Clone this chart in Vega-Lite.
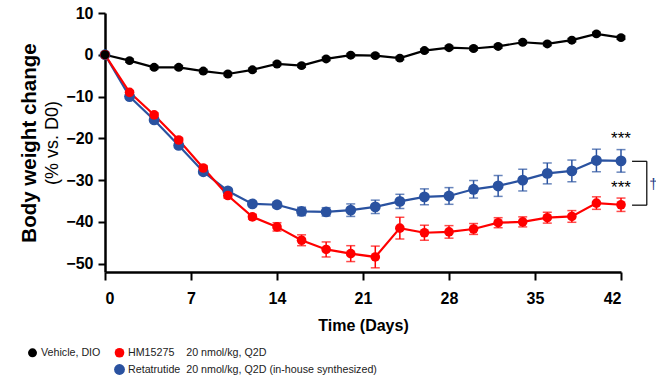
{
  "$schema": "https://vega.github.io/schema/vega-lite/v6.json",
  "width": 516,
  "height": 259,
  "autosize": {"type": "none"},
  "padding": {"left": 105, "top": 13, "right": 35, "bottom": 109},
  "background": "white",
  "config": {
    "font": "Liberation Sans",
    "view": {"stroke": null},
    "axis": {"grid": false, "domainColor": "#000", "tickColor": "#000", "labelColor": "#000", "titleColor": "#000"}
  },
  "datasets": {
    "series": [
      {"group": "Retatrutide", "day": 0, "value": 0, "sem": 0},
      {"group": "Retatrutide", "day": 2, "value": -10.0, "sem": 0.4},
      {"group": "Retatrutide", "day": 4, "value": -15.6, "sem": 0.4},
      {"group": "Retatrutide", "day": 6, "value": -21.7, "sem": 0.5},
      {"group": "Retatrutide", "day": 8, "value": -28.0, "sem": 0.5},
      {"group": "Retatrutide", "day": 10, "value": -32.6, "sem": 0.6},
      {"group": "Retatrutide", "day": 12, "value": -35.7, "sem": 0.6},
      {"group": "Retatrutide", "day": 14, "value": -35.9, "sem": 0.7},
      {"group": "Retatrutide", "day": 16, "value": -37.5, "sem": 1.0},
      {"group": "Retatrutide", "day": 18, "value": -37.6, "sem": 1.0},
      {"group": "Retatrutide", "day": 20, "value": -37.2, "sem": 1.5},
      {"group": "Retatrutide", "day": 22, "value": -36.4, "sem": 1.6},
      {"group": "Retatrutide", "day": 24, "value": -35.1, "sem": 1.7},
      {"group": "Retatrutide", "day": 26, "value": -34.0, "sem": 1.9},
      {"group": "Retatrutide", "day": 28, "value": -33.8, "sem": 2.0},
      {"group": "Retatrutide", "day": 30, "value": -32.2, "sem": 2.1},
      {"group": "Retatrutide", "day": 32, "value": -31.4, "sem": 2.5},
      {"group": "Retatrutide", "day": 34, "value": -30.0, "sem": 2.6},
      {"group": "Retatrutide", "day": 36, "value": -28.4, "sem": 2.5},
      {"group": "Retatrutide", "day": 38, "value": -27.8, "sem": 2.6},
      {"group": "Retatrutide", "day": 40, "value": -25.3, "sem": 2.7},
      {"group": "Retatrutide", "day": 42, "value": -25.4, "sem": 2.7},
      {"group": "HM15275", "day": 0, "value": 0, "sem": 0},
      {"group": "HM15275", "day": 2, "value": -9.0, "sem": 0.4},
      {"group": "HM15275", "day": 4, "value": -14.4, "sem": 0.5},
      {"group": "HM15275", "day": 6, "value": -20.4, "sem": 0.5},
      {"group": "HM15275", "day": 8, "value": -27.1, "sem": 0.5},
      {"group": "HM15275", "day": 10, "value": -33.7, "sem": 0.6},
      {"group": "HM15275", "day": 12, "value": -38.8, "sem": 0.6},
      {"group": "HM15275", "day": 14, "value": -41.2, "sem": 1.0},
      {"group": "HM15275", "day": 16, "value": -44.4, "sem": 1.3},
      {"group": "HM15275", "day": 18, "value": -46.6, "sem": 1.8},
      {"group": "HM15275", "day": 20, "value": -47.6, "sem": 1.9},
      {"group": "HM15275", "day": 22, "value": -48.4, "sem": 2.6},
      {"group": "HM15275", "day": 24, "value": -41.5, "sem": 2.6},
      {"group": "HM15275", "day": 26, "value": -42.6, "sem": 1.8},
      {"group": "HM15275", "day": 28, "value": -42.4, "sem": 1.5},
      {"group": "HM15275", "day": 30, "value": -41.7, "sem": 1.3},
      {"group": "HM15275", "day": 32, "value": -40.2, "sem": 1.2},
      {"group": "HM15275", "day": 34, "value": -40.0, "sem": 1.2},
      {"group": "HM15275", "day": 36, "value": -39.0, "sem": 1.3},
      {"group": "HM15275", "day": 38, "value": -38.7, "sem": 1.4},
      {"group": "HM15275", "day": 40, "value": -35.5, "sem": 1.5},
      {"group": "HM15275", "day": 42, "value": -35.9, "sem": 1.6},
      {"group": "Vehicle", "day": 0, "value": 0, "sem": 0},
      {"group": "Vehicle", "day": 2, "value": -1.4, "sem": 0.4},
      {"group": "Vehicle", "day": 4, "value": -3.0, "sem": 0.4},
      {"group": "Vehicle", "day": 6, "value": -3.0, "sem": 0.4},
      {"group": "Vehicle", "day": 8, "value": -3.9, "sem": 0.4},
      {"group": "Vehicle", "day": 10, "value": -4.6, "sem": 0.4},
      {"group": "Vehicle", "day": 12, "value": -3.6, "sem": 0.4},
      {"group": "Vehicle", "day": 14, "value": -2.2, "sem": 0.4},
      {"group": "Vehicle", "day": 16, "value": -2.6, "sem": 0.4},
      {"group": "Vehicle", "day": 18, "value": -1.0, "sem": 0.4},
      {"group": "Vehicle", "day": 20, "value": -0.1, "sem": 0.4},
      {"group": "Vehicle", "day": 22, "value": -0.2, "sem": 0.4},
      {"group": "Vehicle", "day": 24, "value": -0.8, "sem": 0.4},
      {"group": "Vehicle", "day": 26, "value": 1.0, "sem": 0.4},
      {"group": "Vehicle", "day": 28, "value": 1.7, "sem": 0.4},
      {"group": "Vehicle", "day": 30, "value": 1.5, "sem": 0.4},
      {"group": "Vehicle", "day": 32, "value": 2.0, "sem": 0.4},
      {"group": "Vehicle", "day": 34, "value": 3.0, "sem": 0.4},
      {"group": "Vehicle", "day": 36, "value": 2.6, "sem": 0.4},
      {"group": "Vehicle", "day": 38, "value": 3.5, "sem": 0.4},
      {"group": "Vehicle", "day": 40, "value": 5.0, "sem": 0.4},
      {"group": "Vehicle", "day": 42, "value": 4.1, "sem": 0.4}
    ],
    "stars": [
      {"day": 42, "value": -20.2, "label": "***"},
      {"day": 42, "value": -31.8, "label": "***"}
    ],
    "dagger": [
      {"day": 44.3, "value": -31.0, "label": "†"}
    ],
    "bracket": [
      {"day": 42.9, "day2": 44.1, "value": -25.5, "value2": -25.5},
      {"day": 42.9, "day2": 44.1, "value": -36.0, "value2": -36.0},
      {"day": 44.1, "day2": 44.1, "value": -25.5, "value2": -36.0}
    ]
  },
  "encoding": {
    "x": {
      "field": "day", "type": "quantitative",
      "scale": {"domain": [0, 42], "nice": false, "zero": false},
      "axis": {
        "values": [0, 7, 14, 21, 28, 35, 42],
        "title": "Time (Days)", "titleFontSize": 16, "titleFontWeight": "bold", "titlePadding": 11,
        "labelFontSize": 16, "labelFontWeight": "bold", "labelPadding": 10,
        "tickSize": 8, "tickWidth": 2, "domainWidth": 2.5
      }
    }
  },
  "layer": [
    {
      "data": {"name": "series"},
      "mark": {"type": "errorbar", "ticks": {"size": 9}, "thickness": 1.5},
      "encoding": {
        "y": {"field": "value", "type": "quantitative", "scale": {"domain": [-52, 10], "nice": false, "zero": false}, "axis": null},
        "yError": {"field": "sem"},
        "color": {"field": "group", "type": "nominal", "scale": {"domain": ["Vehicle", "HM15275", "_", "Retatrutide"], "range": ["#000000", "#ff0000", "rgba(0,0,0,0)", "#2a52a0"]}}
      }
    },
    {
      "data": {"name": "series"},
      "mark": {"type": "line", "strokeWidth": 2.2},
      "encoding": {
        "y": {"field": "value", "type": "quantitative", "scale": {"domain": [-52, 10], "nice": false, "zero": false}, "axis": null},
        "color": {"field": "group", "type": "nominal", "scale": {"domain": ["Vehicle", "HM15275", "_", "Retatrutide"], "range": ["#000000", "#ff0000", "rgba(0,0,0,0)", "#2a52a0"]}}
      }
    },
    {
      "data": {"name": "series"},
      "mark": {"type": "point", "filled": true, "opacity": 1, "shape": "circle"},
      "encoding": {
        "y": {
          "field": "value", "type": "quantitative",
          "scale": {"domain": [-52, 10], "nice": false, "zero": false},
          "axis": {
            "orient": "left",
            "values": [-50, -40, -30, -20, -10, 0, 10],
            "title": "(% vs. D0)", "titleFontSize": 18, "titleFontWeight": "normal", "titlePadding": 4,
            "labelFontSize": 16, "labelFontWeight": "bold", "labelPadding": 5,
            "tickSize": 7, "tickWidth": 2, "domainWidth": 2.5
          }
        },
        "color": {
          "field": "group", "type": "nominal",
          "scale": {"domain": ["Vehicle", "HM15275", "_", "Retatrutide"], "range": ["#000000", "#ff0000", "rgba(0,0,0,0)", "#2a52a0"]},
          "legend": {
            "orient": "none", "legendX": -78, "legendY": 334, "direction": "horizontal", "columns": 2,
            "title": null, "symbolType": "circle", "symbolSize": 80, "symbolStrokeWidth": 0, "symbolOpacity": 1,
            "labelFontSize": 10.7, "labelColor": "#222", "labelOffset": 3, "columnPadding": 13, "rowPadding": 5,
            "labelLimit": 400,
            "labelExpr": "datum.value == 'Vehicle' ? 'Vehicle, DIO' : datum.value == 'HM15275' ? 'HM15275\u00a0\u00a0\u00a0 20 nmol/kg, Q2D' : datum.value == 'Retatrutide' ? 'Retatrutide\u00a0 20 nmol/kg, Q2D (in-house synthesized)' : ''",
            "encode": {"symbols": {"update": {"opacity": {"value": 1}, "fillOpacity": {"value": 1}, "strokeWidth": {"value": 0}, "size": {"value": 80}}}}
          }
        },
        "size": {"field": "group", "type": "nominal", "scale": {"domain": ["Vehicle", "HM15275", "_", "Retatrutide"], "range": [80, 118, 90, 118]}, "legend": null}
      }
    },
    {
      "data": {"name": "stars"},
      "mark": {"type": "text", "fontSize": 17, "color": "#000", "baseline": "middle", "align": "center"},
      "encoding": {
        "y": {
          "field": "value", "type": "quantitative",
          "scale": {"domain": [-52, 10], "nice": false, "zero": false},
          "axis": {"orient": "left", "offset": 64, "title": "Body weight change", "titleFontSize": 20.5, "titleFontWeight": "bold", "labels": false, "ticks": false, "domain": false, "titlePadding": 2}
        },
        "text": {"field": "label"}
      }
    },
    {
      "data": {"name": "dagger"},
      "mark": {"type": "text", "fontSize": 15, "color": "#1f3c88", "baseline": "middle", "align": "left"},
      "encoding": {
        "y": {"field": "value", "type": "quantitative", "scale": {"domain": [-52, 10], "nice": false, "zero": false}, "axis": null},
        "text": {"field": "label"}
      }
    },
    {
      "data": {"name": "bracket"},
      "mark": {"type": "rule", "color": "#000", "strokeWidth": 1.2},
      "encoding": {
        "x2": {"field": "day2"},
        "y": {"field": "value", "type": "quantitative", "scale": {"domain": [-52, 10], "nice": false, "zero": false}, "axis": null},
        "y2": {"field": "value2"}
      }
    }
  ],
  "resolve": {"axis": {"y": "independent"}}
}
